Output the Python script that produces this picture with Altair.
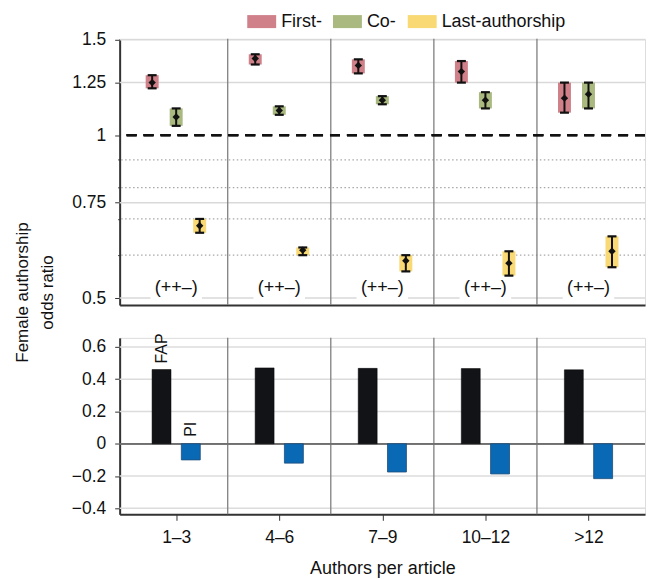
import json
import altair as alt
import pandas as pd

# ---------------- data ----------------
categories = ["1–3", "4–6", "7–9", "10–12", ">12"]
series = ["First-", "Co-", "Last-authorship"]

first_or = [1.25, 1.385, 1.345, 1.31, 1.17]
first_lo = [1.22, 1.35, 1.30, 1.25, 1.10]
first_hi = [1.29, 1.41, 1.38, 1.37, 1.25]

co_or = [1.08, 1.11, 1.16, 1.16, 1.19]
co_lo = [1.04, 1.09, 1.14, 1.12, 1.12]
co_hi = [1.12, 1.13, 1.18, 1.20, 1.25]

last_or = [0.68, 0.613, 0.586, 0.58, 0.61]
last_lo = [0.66, 0.60, 0.56, 0.55, 0.57]
last_hi = [0.70, 0.62, 0.60, 0.61, 0.65]

sign_labels = ["(++–)", "(++–)", "(++–)", "(++–)", "(++–)"]

fap = [0.46, 0.47, 0.467, 0.466, 0.458]
pi = [-0.10, -0.12, -0.175, -0.187, -0.216]
bar_names = ["FAP", "PI"]

or_major = [0.5, 0.75, 1, 1.25, 1.5]
or_minor = [0.6, 0.7, 0.8, 0.9]
diff_ticks = [-0.4, -0.2, 0, 0.2, 0.4, 0.6]

# ---------------- style ----------------
FONT = "Liberation Sans"
colors = ["#cf8088", "#a9b97f", "#f8d973"]
series_off = [-0.233, 0.0, 0.228]
bar_off = [-0.142, 0.142]
W = 527
H_TOP = 267
H_BOT = 177
n = len(categories)
TICK_FS = 17.5

# ---------------- tables ----------------
rows = []
for j, (s, o, lo, hi) in enumerate(zip(series, [first_or, co_or, last_or],
                                       [first_lo, co_lo, last_lo],
                                       [first_hi, co_hi, last_hi])):
    for i, c in enumerate(categories):
        rows.append({"cat": c, "series": s, "x": i + 0.5 + series_off[j],
                     "or": o[i], "lo": lo[i], "hi": hi[i]})
df_top = pd.DataFrame(rows)

df_sign = pd.DataFrame({"x": [i + 0.5 for i in range(n)], "label": sign_labels})
df_sep = pd.DataFrame({"x": list(range(1, n))})
df_major = pd.DataFrame({"v": [v for v in or_major if v != 1]})
df_minor = pd.DataFrame({"v": or_minor})

brows = []
for k, (name, vals) in enumerate(zip(bar_names, [fap, pi])):
    for i, c in enumerate(categories):
        brows.append({"cat": c, "name": name, "x": i + 0.5 + bar_off[k],
                      "v": vals[i], "first": i == 0})
df_bar = pd.DataFrame(brows)
df_bgrid = pd.DataFrame({"v": [v for v in diff_ticks if v != 0]})

xscale = alt.Scale(domain=[0, n], nice=False, zero=False)
yscale_top = alt.Scale(type="log", domain=[0.4855, 1.506], nice=False)
yscale_bot = alt.Scale(domain=[-0.437, 0.656], nice=False, zero=False)

major_test = " || ".join(f"datum.value == {v}" for v in or_major)

x_top_axis = alt.Axis(labels=False, ticks=False, title=None, grid=False,
                      domainColor="#333333", domainWidth=2)
y_top_axis = alt.Axis(values=or_major + or_minor, grid=False, labelOverlap=False,
                      labelExpr=f"({major_test}) ? '' + datum.value : ''",
                      tickSize={"condition": {"test": major_test, "value": 5}, "value": 2},
                      tickColor="#333333", domainColor="#333333", domainWidth=2,
                      labelFont=FONT, labelFontSize=TICK_FS, labelColor="#111111",
                      labelPadding=9, minExtent=55, maxExtent=55,
                      title=["Female authorship", "odds ratio"], titleFont=FONT,
                      titleFontSize=17, titleFontWeight="normal", titleColor="#111111",
                      titleAngle=270, titleAlign="center", titleBaseline="middle",
                      titleX=-97, titleY=254, titleLineHeight=25)

X = lambda: alt.X("x:Q", scale=xscale, axis=x_top_axis)
YT = lambda f: alt.Y(f"{f}:Q", scale=yscale_top, axis=y_top_axis)

base_top = alt.Chart(df_top)

g_major = alt.Chart(df_major).mark_rule(color="#d9d9d9", strokeWidth=1.5).encode(
    y=YT("v"))
g_minor = alt.Chart(df_minor).mark_rule(color="#a8a8a8", strokeWidth=1.2,
                                        strokeDash=[1.5, 2.5]).encode(
    y=YT("v"))
gaps = alt.Chart(df_sign).mark_rule(color="white", strokeWidth=5).encode(
    x=alt.X("a:Q", scale=xscale, axis=x_top_axis), x2="b:Q",
    y=alt.datum(0.5, scale=yscale_top, axis=y_top_axis)
).transform_calculate(a="datum.x - 0.25", b="datum.x + 0.25")
seps_top = alt.Chart(df_sep).mark_rule(color="#7f7f7f", strokeWidth=1.3).encode(
    x=X())
dash_one = alt.Chart(df_sep).mark_rule(color="#111111", strokeWidth=2.3,
                                       strokeDash=[10, 7]).encode(
    y=alt.datum(1, scale=yscale_top, axis=y_top_axis))

boxes = base_top.mark_bar(size=13, opacity=1).encode(
    x=X(), y=YT("lo"), y2="hi:Q",
    color=alt.Color("series:N", scale=alt.Scale(domain=series, range=colors),
                    legend=alt.Legend(
                        title=None, orient="none", direction="horizontal",
                        legendX=128, legendY=-32,
                        symbolType="M-1,-0.45L1,-0.45L1,0.45L-1,0.45Z",
                        symbolSize=841, symbolStrokeWidth=0, symbolOpacity=1,
                        labelFont=FONT, labelFontSize=18, labelColor="#111111",
                        labelOffset=5, columnPadding=11)))
whisk = base_top.mark_rule(color="#111111", strokeWidth=2).encode(
    x=X(), y=YT("lo"), y2="hi:Q")
cap_lo = base_top.mark_tick(orient="horizontal", color="#111111", size=9,
                            thickness=2.2, opacity=1).encode(x=X(), y=YT("lo"))
cap_hi = base_top.mark_tick(orient="horizontal", color="#111111", size=9,
                            thickness=2.2, opacity=1).encode(x=X(), y=YT("hi"))
dots = base_top.mark_point(shape="diamond", filled=True, size=55, color="#111111",
                           opacity=1).encode(x=X(), y=YT("or"))
signs = alt.Chart(df_sign).mark_text(font=FONT, fontSize=18, color="#111111",
                                     baseline="bottom", dy=-1).encode(
    x=X(), y=alt.datum(0.5, scale=yscale_top, axis=y_top_axis), text="label:N")

top = alt.layer(g_major, g_minor, gaps, seps_top, dash_one, boxes, whisk,
                cap_lo, cap_hi, dots, signs).properties(width=W, height=H_TOP)

# ---------------- bottom panel ----------------
x_bot_axis = alt.Axis(values=[i + 0.5 for i in range(n)],
                      labelExpr=f"{json.dumps(categories, ensure_ascii=False)}[floor(datum.value)]",
                      grid=False, tickSize=6, tickColor="#333333",
                      domainColor="#333333", domainWidth=2,
                      labelFont=FONT, labelFontSize=TICK_FS, labelColor="#111111",
                      labelPadding=8, title="Authors per article", titleFont=FONT,
                      titleFontSize=18, titleFontWeight="normal",
                      titleColor="#111111", titlePadding=14)
y_bot_axis = alt.Axis(values=diff_ticks, grid=False, format=".1f", labelOverlap=False,
                      labelExpr="datum.value == 0 ? '0' : datum.label",
                      tickSize=5, tickColor="#333333", domainColor="#333333",
                      domainWidth=2, labelFont=FONT, labelFontSize=TICK_FS,
                      labelColor="#111111", labelPadding=9,
                      minExtent=55, maxExtent=55, title=None)
XB = lambda: alt.X("x:Q", scale=xscale, axis=x_bot_axis)
YB = lambda f: alt.Y(f"{f}:Q", scale=yscale_bot, axis=y_bot_axis)

b_grid = alt.Chart(df_bgrid).mark_rule(color="#dcdcdc", strokeWidth=1.5).encode(
    y=YB("v"))
b_seps = alt.Chart(df_sep).mark_rule(color="#7f7f7f", strokeWidth=1.3).encode(
    x=XB())
b_zero = alt.Chart(df_sep).mark_rule(color="#6f6f6f", strokeWidth=1.3).encode(
    y=alt.datum(0, scale=yscale_bot, axis=y_bot_axis))
base_bar = alt.Chart(df_bar)
bars_fap = base_bar.transform_filter(f"datum.name == '{bar_names[0]}'").mark_bar(
    size=19, color="#121317", stroke="#000000", strokeWidth=0.5).encode(
    x=XB(), y=YB("v"), y2=alt.datum(0))
bars_pi = base_bar.transform_filter(f"datum.name == '{bar_names[1]}'").mark_bar(
    size=19, color="#0a69b4", stroke="#1f4d7a", strokeWidth=0.8).encode(
    x=XB(), y=YB("v"), y2=alt.datum(0))
lab_fap = base_bar.transform_filter(
    f"datum.first && datum.name == '{bar_names[0]}'").mark_text(
    font=FONT, fontSize=16, color="#111111", angle=270, align="left",
    baseline="middle", dx=6).encode(
    x=XB(), y=YB("v"), text="name:N")
lab_pi = base_bar.transform_filter(
    f"datum.first && datum.name == '{bar_names[1]}'").mark_text(
    font=FONT, fontSize=16, color="#111111", angle=270, align="left",
    baseline="middle", dx=7).encode(
    x=XB(), y=alt.datum(0, scale=yscale_bot, axis=y_bot_axis), text="name:N")

bottom = alt.layer(b_grid, b_seps, b_zero, bars_fap, bars_pi, lab_fap,
                   lab_pi).properties(width=W, height=H_BOT)

chart = alt.vconcat(top, bottom, spacing=33, bounds="flush").properties(
    padding={"left": 5, "top": -2, "right": 0, "bottom": 0}
).configure_view(stroke=None).configure(font=FONT)

chart.save("out.html", embed_options={"renderer": "svg", "actions": False})
